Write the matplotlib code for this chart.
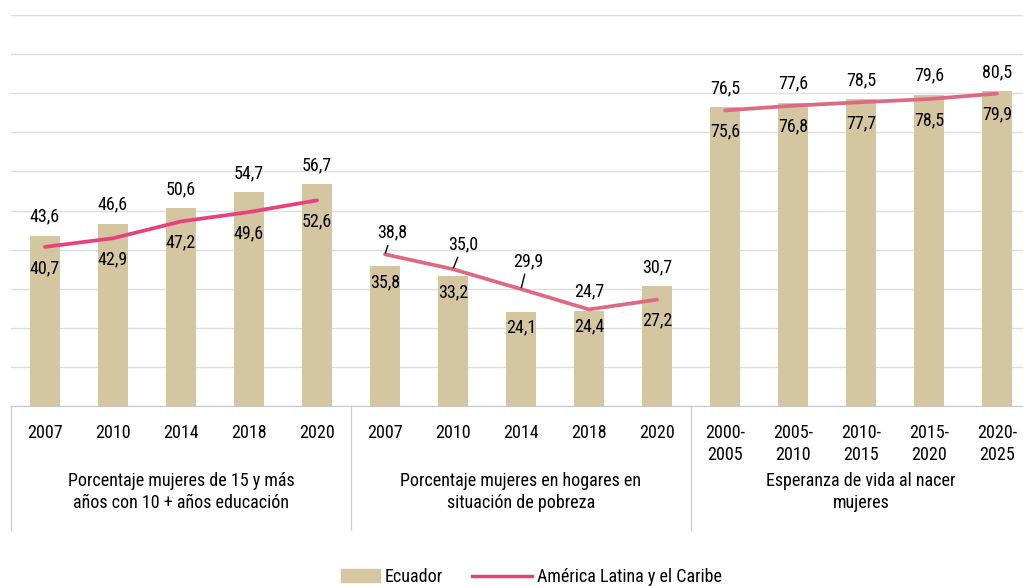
import matplotlib
matplotlib.use('Agg')
import matplotlib.pyplot as plt
from matplotlib import font_manager
from matplotlib.lines import Line2D
from matplotlib.patches import Patch, Rectangle
from matplotlib.legend_handler import HandlerPatch
import numpy as np

# pick a narrow family if one is there
names = {f.name for f in font_manager.fontManager.ttflist}
family = 'DejaVu Sans'
for cand in ['Roboto Condensed', 'Liberation Sans Narrow', 'Roboto']:
    if cand in names:
        family = cand
        break
plt.rcParams['font.family'] = [family, 'DejaVu Sans']

# data
tick_labels = ['2007', '2010', '2014', '2018', '2020',
               '2007', '2010', '2014', '2018', '2020',
               '2000-\n2005', '2005-\n2010', '2010-\n2015', '2015-\n2020', '2020-\n2025']
group_labels = ['Porcentaje mujeres de 15 y más\naños con 10 + años educación',
                'Porcentaje mujeres en hogares en\nsituación de pobreza',
                'Esperanza de vida al nacer\nmujeres']
ecuador = [43.6, 46.6, 50.6, 54.7, 56.7,
           35.8, 33.2, 24.1, 24.4, 30.7,
           76.5, 77.6, 78.5, 79.6, 80.5]
alc = [40.7, 42.9, 47.2, 49.6, 52.6,
       38.8, 35.0, 29.9, 24.7, 27.2,
       75.6, 76.8, 77.7, 78.5, 79.9]

# labels drawn with a small leader line: index -> text offset in pixels
leaders = {5: (7, 22), 6: (10, 25), 7: (7, 28)}

bar_color = '#D3C6A0'
line_colors = ['#E6437E', '#DC6A82', '#DC6A82']
FS = 13

fig = plt.figure(figsize=(10.23, 5.86), dpi=100)
# axes runs a little past the right edge, like the original
ax = fig.add_axes([11 / 1023, 180 / 586, 1020 / 1023, 391 / 586])

x = np.arange(len(ecuador))
ax.bar(x, ecuador, width=0.45, color=bar_color, zorder=2)
for g in range(3):
    s = slice(g * 5, g * 5 + 5)
    ax.plot(x[s], alc[s], color=line_colors[g], lw=2.7, solid_capstyle='round', zorder=3)

ax.set_xlim(-0.5, len(x) - 0.5)
ax.set_ylim(0, 100)
ax.set_yticks(np.arange(0, 101, 10))
ax.yaxis.grid(True, color='#DDDDDD', lw=1)
ax.set_axisbelow(True)
ax.tick_params(axis='y', left=False, labelleft=False)
for sp in ['top', 'right', 'left']:
    ax.spines[sp].set_visible(False)
ax.spines['bottom'].set_color('#C8C8C8')

ax.set_xticks(x)
ax.set_xticklabels(tick_labels, fontsize=FS, va='top', linespacing=1.3)
ax.tick_params(axis='x', length=0, pad=13)


def fmt(v):
    return f'{v:.1f}'.replace('.', ',')


def label(i, v, dx, dy, leader=False):
    kw = {}
    if leader:
        kw['arrowprops'] = dict(arrowstyle='-', color='black', lw=1, shrinkA=1, shrinkB=1)
    ax.annotate(fmt(v), (x[i], v), xytext=(dx, dy), textcoords='offset pixels',
                ha='center', va='center', fontsize=FS, zorder=4, **kw)


# value labels: higher value above, lower value below
for i in range(len(x)):
    b, l = ecuador[i], alc[i]
    if b >= l:
        label(i, b, 0, 19)
        label(i, l, 0, -21)
    else:
        if i in leaders:
            label(i, l, *leaders[i], leader=True)
        else:
            label(i, l, 0, 18)
        label(i, b, 0, -16)

# group separators and group names
trans = ax.get_xaxis_transform()
for g in range(3):
    xs = g * 5 - 0.5
    ax.add_line(Line2D([xs, xs], [0, -124 / 391], transform=trans, color='#D0D0D0',
                       lw=1, clip_on=False))
    ax.text(g * 5 + 2, -86 / 391, group_labels[g], transform=trans, ha='center',
            va='center', fontsize=FS, linespacing=1.3)


def small_box(legend, orig_handle, xdescent, ydescent, width, height, fontsize):
    w = width * 0.66
    return Rectangle((-xdescent + width - w, -ydescent), w, height)


handles = [Patch(color=bar_color, label='Ecuador'),
           Line2D([], [], color=line_colors[0], lw=2.5, label='América Latina y el Caribe')]
fig.legend(handles=handles, loc='center', bbox_to_anchor=(521 / 1023, 1 - 577 / 586),
           ncol=2, frameon=False, fontsize=FS, handlelength=3.3, handleheight=0.75,
           columnspacing=1.65, handletextpad=0.25,
           handler_map={Patch: HandlerPatch(patch_func=small_box)})

fig.savefig('out.png', dpi=100)
